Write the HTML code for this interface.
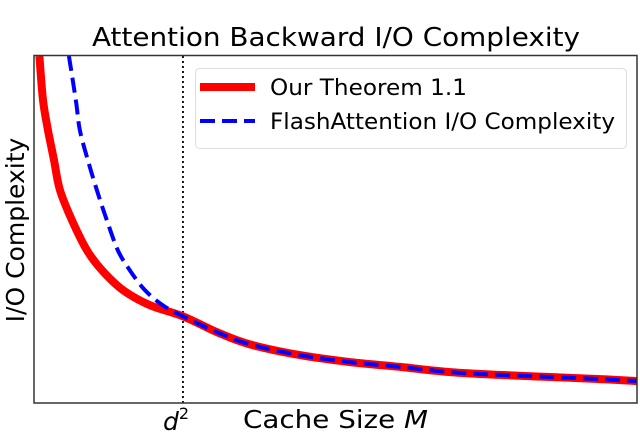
<!DOCTYPE html>
<html><head><meta charset="utf-8"><style>
html,body{margin:0;padding:0;background:#fff;width:640px;height:435px;overflow:hidden}
svg{display:block;font-family:"DejaVu Sans","Liberation Sans",sans-serif}
</style></head><body>
<svg id="chart" width="640" height="435">
<text x="92" y="46" font-size="26" textLength="488" lengthAdjust="spacingAndGlyphs">Attention Backward I/O Complexity</text>
<g id="plot"></g>
<rect x="34" y="55.5" width="603" height="347.5" fill="none" stroke="#333" stroke-width="1.5"/>
<text x="189" y="430" font-size="25" text-anchor="end"><tspan font-style="italic">d</tspan><tspan font-size="16" dy="-11">2</tspan></text>
<text x="243" y="428" font-size="25" textLength="185" lengthAdjust="spacingAndGlyphs">Cache Size <tspan font-style="italic">M</tspan></text>
<text transform="translate(24,230) rotate(-90)" font-size="25" text-anchor="middle">I/O Complexity</text>
<g>
<rect x="195.5" y="68.5" width="431" height="80" rx="4" fill="#fff" stroke="#ddd"/>
<line x1="200" y1="87" x2="255" y2="87" stroke="#f00" stroke-width="8"/>
<text x="270" y="95" font-size="22" textLength="197" lengthAdjust="spacingAndGlyphs">Our Theorem 1.1</text>
<line x1="200" y1="121" x2="255" y2="121" stroke="#00f" stroke-width="4" stroke-dasharray="15,7"/>
<text x="270" y="129" font-size="22" textLength="345" lengthAdjust="spacingAndGlyphs">FlashAttention I/O Complexity</text>
</g>
</svg>
<script>
const d2 = 24.7;
const redX = [0.9,1.49,2.31,3.31,4.30,6.28,8.76,11.24,14.71,19.17,24.7,30.5,35.8,44.1,52.4,60.7,69.0,77.3,85.6,93.9,100];
const redY = [100,87.3,78.7,70,61.4,52.7,44.1,38.3,32.6,28.2,25.0,20.3,16.9,13.8,11.8,10.4,8.9,8.1,7.5,6.9,6.3];
const blueX = [5.79,6.94,7.60,8.93,10.41,12.07,13.88,15.87,18.35,21.32,24.7,30.5,35.8,44.1,52.4,60.7,69.0,77.3,85.6,93.9,100];
const blueY = [100,87.3,78.7,70,61.4,52.7,44.1,38.3,32.6,28.2,25.0,20.3,16.9,13.8,11.8,10.4,8.9,8.1,7.5,6.9,6.3];
const X0=34,W=603,Y0=403,H=347;
const sx=v=>X0+v/100*W, sy=v=>Y0-v/100*H;
const NS="http://www.w3.org/2000/svg";
const g=document.getElementById('plot');
function path(xs,ys){
  const p=xs.map((x,i)=>[sx(x),sy(ys[i])]);
  let d='M'+p[0][0].toFixed(1)+','+p[0][1].toFixed(1);
  for(let i=0;i<p.length-1;i++){
    const p0=p[Math.max(0,i-1)],p1=p[i],p2=p[i+1],p3=p[Math.min(p.length-1,i+2)];
    const c1=[p1[0]+(p2[0]-p0[0])/6,p1[1]+(p2[1]-p0[1])/6];
    const c2=[p2[0]-(p3[0]-p1[0])/6,p2[1]-(p3[1]-p1[1])/6];
    d+='C'+c1.map(v=>v.toFixed(1)).join(',')+' '+c2.map(v=>v.toFixed(1)).join(',')+' '+p2.map(v=>v.toFixed(1)).join(',');
  }
  return d;
}
const cp=document.createElementNS(NS,'clipPath');cp.id='clip';
const cr=document.createElementNS(NS,'rect');cr.setAttribute('x',X0);cr.setAttribute('y',56);cr.setAttribute('width',603);cr.setAttribute('height',347);
cp.appendChild(cr);g.appendChild(cp);
const vl=document.createElementNS(NS,'line');


vl.setAttribute('x1',sx(d2));vl.setAttribute('x2',sx(d2));vl.setAttribute('y1',56);vl.setAttribute('y2',403);
vl.setAttribute('stroke','#000');vl.setAttribute('stroke-width','1.8');vl.setAttribute('stroke-dasharray','2,3');
g.appendChild(vl);
const r=document.createElementNS(NS,'path');


r.setAttribute('d',path(redX,redY));r.setAttribute('fill','none');r.setAttribute('stroke','#f00');r.setAttribute('stroke-width','8');r.setAttribute('clip-path','url(#clip)');
g.appendChild(r);
const b=document.createElementNS(NS,'path');


b.setAttribute('d',path(blueX,blueY));b.setAttribute('fill','none');b.setAttribute('stroke','#00f');b.setAttribute('stroke-width','4');b.setAttribute('stroke-dasharray','15,7');b.setAttribute('clip-path','url(#clip)');
g.appendChild(b);
</script>
</body></html>
